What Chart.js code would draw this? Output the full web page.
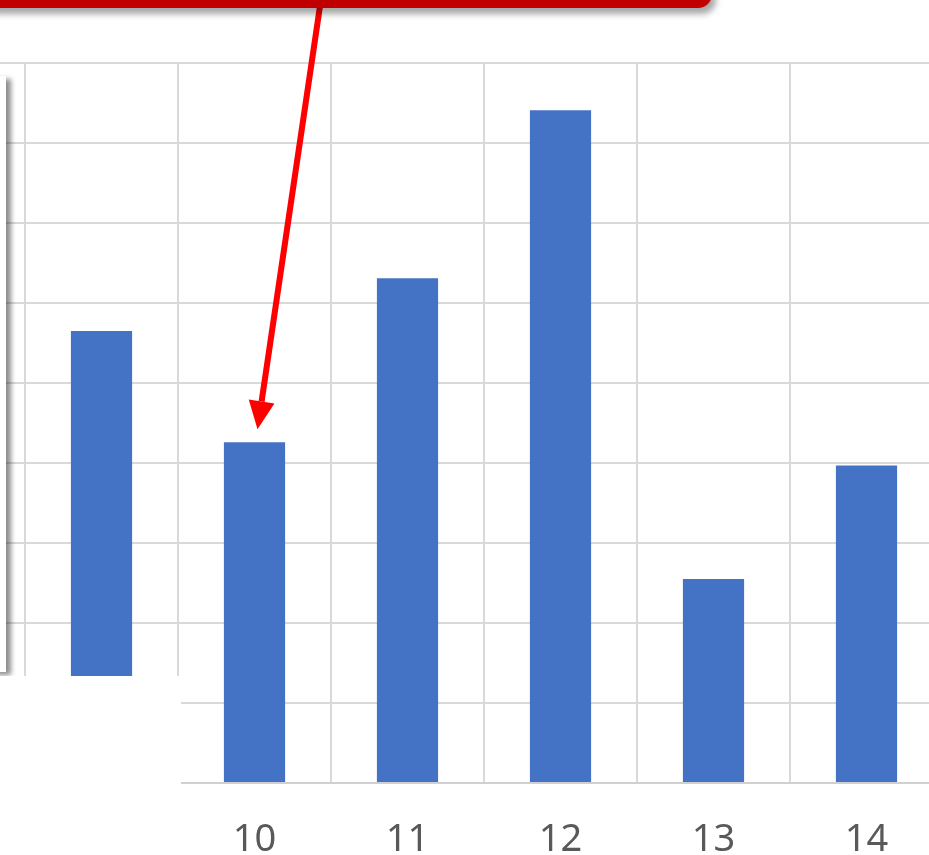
<!DOCTYPE html>
<html>
<head>
<meta charset="utf-8">
<script src="https://cdn.jsdelivr.net/npm/chart.js@4"></script>
<style>
  html, body { margin: 0; padding: 0; background: #fff; }
  body { width: 929px; height: 855px; overflow: hidden; position: relative; }
  #wrap { position: absolute; left: -128px; top: 0; width: 1071px; height: 855px; }
  .callout {
    position: absolute; left: -20px; top: -20px; width: 732px; height: 28px;
    background: #c00000; border-radius: 14px;
    box-shadow: 4px 6px 6px rgba(0,0,0,0.35);
  }
  .panel {
    position: absolute; left: -20px; top: 76px; width: 26px; height: 596px;
    background: #fff; box-shadow: 5px 3px 5px rgba(0,0,0,0.45);
  }
  .cover { position: absolute; left: 0; top: 676px; width: 181px; height: 179px; background: #fff; }
</style>
</head>
<body>
<div id="wrap"><canvas id="chart"></canvas></div>
<div class="panel"></div>
<div class="cover"></div>
<div class="callout"></div>
<script>
const CATEGORIES = ['8', '9', '10', '11', '12', '13', '14'];
const VALUES = [null, 5.65, 4.26, 6.31, 8.41, 2.55, 3.97];
const Y_MAX = 9;
const BAR_COLOR = '#4472c4';
const GRID_COLOR = '#d9d9d9';
const ARROW_TARGET = '10';

// red arrow from the callout down to the highlighted bar
const arrowPlugin = {
  id: 'arrow',
  afterDraw(chart) {
    const { ctx, scales: { x, y } } = chart;
    const idx = CATEGORIES.indexOf(ARROW_TARGET);
    const tipX = x.getPixelForValue(idx) + 3;
    const tipY = y.getPixelForValue(VALUES[idx]) - 13;
    const startX = 128 + 320, startY = 6;
    const ang = Math.atan2(tipY - startY, tipX - startX);
    const headLen = 28, headW = 13;
    const baseX = tipX - headLen * Math.cos(ang);
    const baseY = tipY - headLen * Math.sin(ang);
    ctx.save();
    ctx.strokeStyle = '#ff0000';
    ctx.fillStyle = '#ff0000';
    ctx.lineWidth = 6;
    ctx.beginPath();
    ctx.moveTo(startX, startY);
    ctx.lineTo(baseX, baseY);
    ctx.stroke();
    ctx.beginPath();
    ctx.moveTo(tipX, tipY);
    ctx.lineTo(baseX + headW * Math.sin(ang), baseY - headW * Math.cos(ang));
    ctx.lineTo(baseX - headW * Math.sin(ang), baseY + headW * Math.cos(ang));
    ctx.closePath();
    ctx.fill();
    ctx.restore();
  },
};

const ctx = document.getElementById('chart').getContext('2d');
new Chart(ctx, {
  type: 'bar',
  data: {
    labels: CATEGORIES,
    datasets: [{
      data: VALUES,
      backgroundColor: BAR_COLOR,
      borderWidth: 0,
      categoryPercentage: 1,
      barPercentage: 0.4,
    }],
  },
  options: {
    responsive: true,
    maintainAspectRatio: false,
    animation: false,
    layout: { padding: { top: 63, left: 0, right: 0, bottom: 0 } },
    plugins: { legend: { display: false }, tooltip: { enabled: false } },
    scales: {
      x: {
        grid: { color: GRID_COLOR, lineWidth: 2, offset: true, drawTicks: false },
        border: { color: '#d0d0d0', width: 2 },
        ticks: { color: '#595959', padding: 34, font: { family: 'Noto Sans', size: 38 } },
        afterFit: (s) => { s.height = 72; },
      },
      y: {
        min: 0,
        max: Y_MAX,
        ticks: { display: false, stepSize: 1 },
        grid: { color: GRID_COLOR, lineWidth: 2, drawTicks: false },
        border: { display: false },
        afterFit: (s) => { s.width = 0; },
      },
    },
  },
  plugins: [arrowPlugin],
});
</script>
</body>
</html>
